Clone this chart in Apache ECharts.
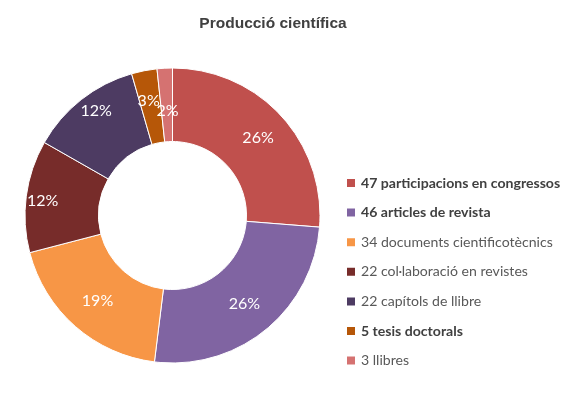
<!DOCTYPE html>
<html><head><meta charset="utf-8">
<script src="https://cdn.jsdelivr.net/npm/echarts@6/dist/echarts.min.js"></script>
<style>html,body{margin:0;padding:0;background:#fff}#c{width:567px;height:394px}</style>
</head><body><div id="c"></div>
<script>
const categories = ["47 participacions en congressos","46 articles de revista","34 documents cientificotècnics","22 col·laboració en revistes","22 capítols de llibre","5 tesis doctorals","3 llibres"];
const values = [47,46,34,22,22,5,3];
const boldItems = [true,true,false,false,false,true,false];
const colors = ["#C0504D","#8064A2","#F79646","#772C2A","#4D3B62","#B65708","#D57271"];
// label nudges to mimic the reference placement: horizontal padding and vertical line shift
const labelPads = [[0,0,0,4],[0,0,0,0],[0,0,0,0],[0,34,0,0],[0,12,0,0],[0,4,0,0],[0,0,0,2]];
const labelShift = [0,0,0,0,-15,-3,9];
const total = values.reduce((a,b)=>a+b,0);
const chart = echarts.init(document.getElementById('c'));
chart.setOption({
  animation:false,
  title:{text:"Producció científica",left:268,textAlign:'center',top:11,
    textStyle:{fontFamily:"Liberation Sans",fontSize:15.5,fontWeight:'bold',color:'#404040'}},
  legend:{orient:'vertical',left:345,top:176,padding:0,itemWidth:10,itemHeight:10,itemGap:15.6,
    icon:'rect',
    formatter:function(name){const i=categories.indexOf(name);return boldItems[i]?'{b|'+name+'}':'{n|'+name+'}';},
    textStyle:{rich:{
      b:{fontFamily:"Lato",fontSize:14.1,fontWeight:'bold',color:'#404040'},
      n:{fontFamily:"Lato",fontSize:14.1,color:'#595959'}}},
    data:categories},
  series:[{type:'pie',center:[172.5,215.5],radius:[74,147.5],startAngle:90,clockwise:true,
    avoidLabelOverlap:false,
    labelLayout:{hideOverlap:false},
    itemStyle:{borderColor:'#fff',borderWidth:1},
    label:{show:true,position:'inside',color:'#fff',fontFamily:"Lato",fontSize:16,
      formatter:function(p){
        const t=Math.round(p.value/total*100)+'%';
        const s=labelShift[p.dataIndex];
        return s<0?t+'\n':(s>0?'\n'+t:t);
      }},
    labelLine:{show:false},
    data:categories.map((c,i)=>({name:c,value:values[i],itemStyle:{color:colors[i]},
      label:{padding:labelPads[i],lineHeight:labelShift[i]?Math.abs(labelShift[i])*2:20}}))
  }]
});
</script></body></html>
